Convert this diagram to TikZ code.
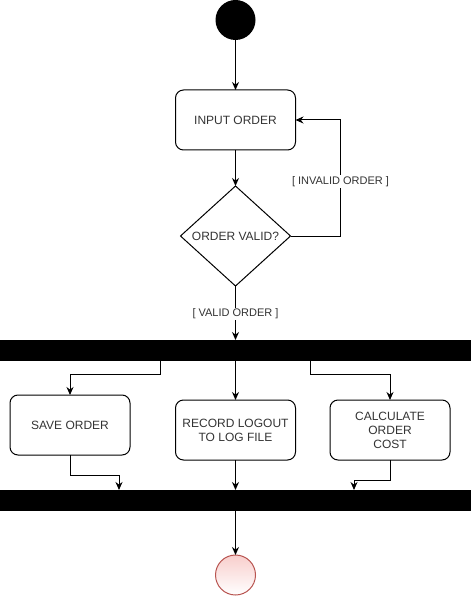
\documentclass[tikz,border=0pt]{standalone}
\usepackage{fontspec}
\setmainfont{Liberation Sans}
\usepackage{xcolor}
\definecolor{gray-800}{RGB}{51,51,51}
\definecolor{red-700}{RGB}{184,84,80}
\definecolor{red-100}{RGB}{248,206,204}
\usetikzlibrary{positioning,shapes.geometric,arrows.meta}

\begin{document}
\begin{tikzpicture}[x=1pt, y=-1pt, outer sep=0pt,
    action box/.style={rectangle, rounded corners=8pt, draw, line width=1pt, minimum width=120pt, minimum height=60pt, inner sep=2pt, align=center, text=gray-800, font=\fontsize{12}{14}\selectfont},
    decision/.style={diamond, draw, line width=1pt, minimum width=110pt, minimum height=100pt, inner sep=0pt, text=gray-800, font=\fontsize{12}{14}\selectfont},
    sync bar/.style={rectangle, fill=black, minimum width=471pt, minimum height=21pt, inner sep=0pt},
    guard/.style={fill=white, inner sep=1pt, text=gray-800, font=\fontsize{11}{13}\selectfont},
    arrow/.style={-{Stealth[length=8pt,width=7pt]}, line width=1pt}
]
\useasboundingbox (0,0) rectangle (471,596);

% Start - Initial node
\node[circle, fill=black, minimum size=40pt, inner sep=0pt] (start) at (235.5,20) {};

% Step 1 - Input Order
\node[action box, below=50pt of start] (input) {INPUT ORDER};
\draw[arrow] (start.south) -- (input.north);

% Decision - Order Valid?
\node[decision, below=36pt of input] (check) {ORDER VALID?};
\draw[arrow] (input.south) -- (check.north);

% Arrow back to input
\draw[arrow] (check.east) -- ++(50,0) |- node[guard, pos=0.235] {[ INVALID ORDER ]} (input.east);

% Fork bar
\node[sync bar, below=54pt of check] (fork) {};
\draw[arrow] (check.south) -- node[guard, pos=0.52] {[ VALID ORDER ]} (fork.north);

% Parallel actions
\node[action box, below=39pt of fork] (record) {RECORD LOGOUT\\TO LOG FILE};
\node[action box] (save) at (70,425) {SAVE ORDER};
\node[action box] (calc) at (390,430) {CALCULATE\\ORDER\\COST};

% Arrows fork->actions
\draw[arrow] ([xshift=-75.5pt]fork.south) -- ++(0,13) -| (save.north);
\draw[arrow] (fork.south) -- (record.north);
\draw[arrow] ([xshift=74.5pt]fork.south) -- ++(0,13) -| (calc.north);

% Join bar
\node[sync bar, below=30pt of record] (join) {};

% Arrows actions->join
\draw[arrow] (save.south) -- ++(0,20) -| ([xshift=-116.5pt]join.north);
\draw[arrow] (record.south) -- (join.north);
\draw[arrow] (calc.south) -- ++(0,20) -| ([xshift=118.5pt]join.north);

% End - Final node
\node[circle, draw=red-700, line width=1pt, top color=red-100, bottom color=white, minimum size=40pt, inner sep=0pt, below=44pt of join] (finish) {};
\draw[arrow] (join.south) -- (finish.north);

\end{tikzpicture}
\end{document}
